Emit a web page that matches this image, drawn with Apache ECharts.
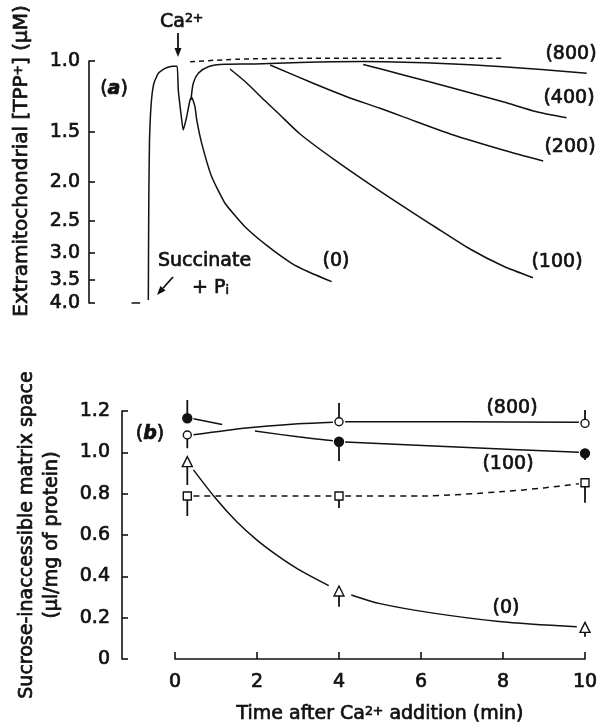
<!DOCTYPE html>
<html>
<head>
<meta charset="utf-8">
<script src="https://cdn.jsdelivr.net/npm/echarts@6/dist/echarts.min.js"></script>
<style>
html, body { margin: 0; padding: 0; background: #fff; }
#chart { width: 602px; height: 723px; }
</style>
</head>
<body>
<div id="chart"></div>
<script>
// ---- panel (a): TPP+ electrode traces (time in min after Ca2+ addition, [TPP+] in uM)
const tppTicks = [1.0, 1.5, 2.0, 2.5, 3.0, 3.5, 4.0]

const baseT = [-1.06, -0.85]
const baseV = [4.0, 4.0]

// succinate rise, Ca2+ dip and the (0) trace
const traceT = [-0.651, -0.639, -0.622, -0.598, -0.561, -0.512, -0.407, -0.244, -0.073, 0.05, 0.08, 0.163, 0.2, 0.285, 0.366, 0.407, 0.488, 0.529, 0.651, 0.895, 1.22, 1.707, 2.276, 2.846, 3.251, 3.822]
const traceV = [3.93, 2.22, 1.57, 1.36, 1.215, 1.134, 1.073, 1.043, 1.031, 1.03, 1.18, 1.40, 1.485, 1.376, 1.25, 1.231, 1.30, 1.40, 1.603, 1.941, 2.259, 2.584, 2.897, 3.186, 3.344, 3.54]

// recovery, continuing as the (800) trace
const t800 = [0.39, 0.446, 0.568, 0.812, 1.22, 1.95, 3.05, 4.59, 6.38, 8.0, 10.04]
const v800 = [1.25, 1.136, 1.073, 1.033, 1.019, 1.017, 1.008, 1.003, 1.013, 1.033, 1.073]

const t100 = [1.341, 1.749, 2.122, 2.512, 3.049, 3.902, 5.0, 6.383, 7.195, 8.0, 8.732]
const v100 = [1.047, 1.134, 1.236, 1.347, 1.519, 1.764, 2.106, 2.603, 2.936, 3.236, 3.46]

const t200 = [2.32, 3.37, 4.19, 5.0, 5.57, 6.79, 8.0, 8.98]
const v200 = [1.023, 1.136, 1.227, 1.311, 1.377, 1.528, 1.665, 1.774]

const t400 = [4.59, 5.57, 6.79, 8.0, 8.82, 9.55]
const v400 = [1.02, 1.083, 1.169, 1.263, 1.337, 1.384]

const dashT = [0.37, 1.5, 3.05, 7.97]
const dashV = [1.004, 0.99, 0.985, 0.985]

// ---- panel (b): sucrose-inaccessible matrix space
const timeB = [0.3, 4, 10]
const openV = [1.084, 1.148, 1.140]     // (800)
const openErr = [1.02, 1.239, 1.205]
const filledV = [1.165, 1.051, 0.995]   // (100)
const filledErr = [1.253, 0.958, 0.963]
const squareV = [0.789, 0.789, 0.853]   // dashed
const squareErr = [0.692, 0.731, 0.756]
const triV = [0.955, 0.329, 0.153]      // (0)
const triErr = [0.842, 0.253, 0.108]

// drawn curves through the points (null = gap in the line)
const openFitT = [0.45, 1.2, 2, 3, 3.85, null, 4.15, 7, 9.85]
const openFitV = [1.085, 1.105, 1.122, 1.138, 1.146, null, 1.148, 1.148, 1.145]
const filledFitT = [0.45, 1.15, null, 1.95, 3, 3.85, null, 4.15, 7, 9.85]
const filledFitV = [1.163, 1.135, null, 1.103, 1.075, 1.056, null, 1.05, 1.025, 1.0]
const squareFitT = [0.45, 3.85, null, 4.15, 6, 8, 9, 9.85]
const squareFitV = [0.789, 0.789, null, 0.789, 0.789, 0.81, 0.828, 0.848]
const triFitT = [0.45, 1, 1.5, 2, 2.5, 3, 3.75, null, 4.3, 5, 6.3, 7.9, 9.8]
const triFitV = [0.915, 0.775, 0.665, 0.575, 0.5, 0.435, 0.355, null, 0.31, 0.268, 0.222, 0.182, 0.156]

const FONT = '"DejaVu Sans", sans-serif'
const INK = '#111'
const FS = 19
const HALO = 0.7   // thin outline to give the text the scanned, medium weight

const xy = (xs, ys) => xs.map((x, i) => (x == null ? ['-', '-'] : [x, ys[i]]))
const trio = (xs, ys, es) => xs.map((x, i) => [x, ys[i], es[i]])

// rich styles for axis names (echarts label style keys)
const axTok = { fontFamily: FONT, color: INK, textBorderColor: INK, textBorderWidth: HALO }
const RICH_AX = {
  sup: Object.assign({ fontSize: 12.5, verticalAlign: 'top', padding: [0, 0, 6, 0] }, axTok)
}
// rich styles for graphic texts (zrender keys)
const gTok = { fontFamily: FONT, fill: INK }
const RICH_G = {
  sup: Object.assign({ fontSize: 12.5, verticalAlign: 'top', padding: [0, 0, 6, 0] }, gTok),
  sub: Object.assign({ fontSize: 12.5, verticalAlign: 'bottom', padding: [6, 0, 0, 0] }, gTok),
  it: Object.assign({ fontSize: FS, fontStyle: 'italic', fontWeight: 'bold' }, gTok)
}

const lineA = (xs, ys, extra) => Object.assign({
  type: 'line', xAxisIndex: 0, yAxisIndex: 0, data: xy(xs, ys),
  symbol: 'none', smooth: 0.25, clip: false, silent: true,
  lineStyle: { color: INK, width: 1.5 }
}, extra)

const lineB = (xs, ys, extra) => Object.assign({
  type: 'line', xAxisIndex: 1, yAxisIndex: 1, data: xy(xs, ys),
  symbol: 'none', smooth: 0.3, clip: false, silent: true, connectNulls: false,
  lineStyle: { color: INK, width: 1.5 }
}, extra)

const markers = (vals, symbol, size, fill) => ({
  type: 'scatter', xAxisIndex: 1, yAxisIndex: 1, data: xy(timeB, vals),
  symbol, symbolSize: size, z: 5, silent: true,
  itemStyle: { color: fill, borderColor: INK, borderWidth: 1.4, opacity: 1 }
})

const errorBars = (vals, ends) => ({
  type: 'custom', xAxisIndex: 1, yAxisIndex: 1, data: trio(timeB, vals, ends), z: 3, silent: true,
  renderItem: (params, api) => {
    const a = api.coord([api.value(0), api.value(1)])
    const b = api.coord([api.value(0), api.value(2)])
    return {
      type: 'line',
      shape: { x1: a[0], y1: a[1], x2: b[0], y2: b[1] },
      style: { stroke: INK, lineWidth: 1.8 }
    }
  }
})

const axisText = { color: INK, fontSize: FS, fontFamily: FONT, textBorderColor: INK, textBorderWidth: HALO }

const txt = (x, y, text, align) => ({
  type: 'text', x, y, silent: true,
  style: {
    text, fill: INK, stroke: INK, lineWidth: HALO, fontSize: FS, fontFamily: FONT,
    align: align || 'center', verticalAlign: 'middle', rich: RICH_G
  }
})

const arrow = (x1, y1, x2, y2) => {
  const len = Math.hypot(x2 - x1, y2 - y1)
  const ux = (x2 - x1) / len, uy = (y2 - y1) / len
  const bx = x2 - ux * 9, by = y2 - uy * 9
  return [
    { type: 'line', silent: true, shape: { x1, y1, x2: bx, y2: by }, style: { stroke: INK, lineWidth: 1.8 } },
    { type: 'polygon', silent: true,
      shape: { points: [[x2, y2], [bx - uy * 3.5, by + ux * 3.5], [bx + uy * 3.5, by - ux * 3.5]] },
      style: { fill: INK } }
  ]
}

const chart = echarts.init(document.getElementById('chart'))

chart.setOption({
  animation: false,
  backgroundColor: '#fff',
  grid: [
    // panel (a) shares panel (b)'s time scale: 0 min at x=175, 10 min at x=585
    { left: 125.8, width: 463.3, top: 61, height: 242, outerBoundsMode: 'none' },
    // panel (b) data area
    { left: 175, right: 17, top: 411, height: 248, outerBoundsMode: 'none' },
    // panel (b) detached y axis
    { left: 122, width: 40, top: 411, height: 248, outerBoundsMode: 'none' }
  ],
  xAxis: [
    { gridIndex: 0, type: 'value', min: -1.2, max: 10.1, show: false },
    {
      gridIndex: 1, type: 'value', min: 0, max: 10, interval: 2,
      name: 'Time after Ca{sup|2+} addition (min)', nameLocation: 'middle', nameGap: 46,
      nameTextStyle: Object.assign({ rich: RICH_AX }, axisText),
      axisLine: { show: true, onZero: false, lineStyle: { color: INK, width: 1.6 } },
      axisTick: { show: true, inside: true, length: 7, lineStyle: { color: INK, width: 1.6 } },
      axisLabel: Object.assign({ margin: 14 }, axisText),
      splitLine: { show: false }
    },
    { gridIndex: 2, type: 'value', min: 0, max: 1, show: false }
  ],
  yAxis: [
    {
      gridIndex: 0, type: 'log', logBase: 10, inverse: true, min: 1, max: 4, offset: 36.8,
      name: 'Extramitochondrial [TPP{sup|+}] (μM)', nameLocation: 'middle', nameRotate: 90, nameGap: 57,
      nameTextStyle: Object.assign({ rich: RICH_AX, padding: [0, 0, 0, 42] }, axisText, { fontSize: 20 }),
      axisLine: { show: true, onZero: false, lineStyle: { color: INK, width: 1.6 } },
      axisTick: { show: true, inside: true, length: 6, customValues: tppTicks, lineStyle: { color: INK, width: 1.6 } },
      axisLabel: Object.assign({ customValues: tppTicks, margin: 9, formatter: v => Number(v).toFixed(1) }, axisText),
      splitLine: { show: false }
    },
    { gridIndex: 1, type: 'value', min: 0, max: 1.2, show: false },
    {
      gridIndex: 2, type: 'value', min: 0, max: 1.2, interval: 0.2,
      name: 'Sucrose-inaccessible matrix space\n(μl/mg of protein)', nameLocation: 'middle', nameRotate: 90, nameGap: 57,
      nameTextStyle: Object.assign({ lineHeight: 25 }, axisText),
      axisLine: { show: true, onZero: false, lineStyle: { color: INK, width: 1.6 } },
      axisTick: { show: true, inside: true, length: 6, lineStyle: { color: INK, width: 1.6 } },
      axisLabel: Object.assign({ margin: 12, formatter: v => (v === 0 ? '0' : v.toFixed(1)) }, axisText),
      splitLine: { show: false }
    }
  ],
  series: [
    lineA(baseT, baseV, { smooth: false }),
    lineA(traceT, traceV, { smooth: 0.15 }),
    lineA(t800, v800),
    lineA(t100, v100),
    lineA(t200, v200),
    lineA(t400, v400),
    lineA(dashT, dashV, { lineStyle: { color: INK, width: 1.5, type: [5, 4] } }),

    lineB(openFitT, openFitV),
    lineB(filledFitT, filledFitV),
    lineB(squareFitT, squareFitV, { lineStyle: { color: INK, width: 1.5, type: [6, 5] } }),
    lineB(triFitT, triFitV),
    errorBars(openV, openErr),
    errorBars(filledV, filledErr),
    errorBars(squareV, squareErr),
    errorBars(triV, triErr),
    markers(openV, 'circle', 8, '#fff'),
    markers(filledV, 'circle', 9, INK),
    markers(squareV, 'rect', 8, '#fff'),
    markers(triV, 'triangle', 10, '#fff')
  ],
  graphic: [
    txt(114, 89, '({it|a})'),
    txt(150, 434, '({it|b})'),
    txt(160, 22, 'Ca{sup|2+}', 'left'),
    ...arrow(178, 33, 178, 57),
    txt(158, 261, 'Succinate', 'left'),
    txt(192, 288, '+ P{sub|i}', 'left'),
    ...arrow(173, 277, 157, 295),
    txt(571, 54, '(800)'),
    txt(569, 98, '(400)'),
    txt(570, 147, '(200)'),
    txt(557, 262, '(100)'),
    txt(336, 261, '(0)'),
    txt(512, 408, '(800)'),
    txt(508, 464, '(100)'),
    txt(506, 608, '(0)')
  ]
})
</script>
</body>
</html>
